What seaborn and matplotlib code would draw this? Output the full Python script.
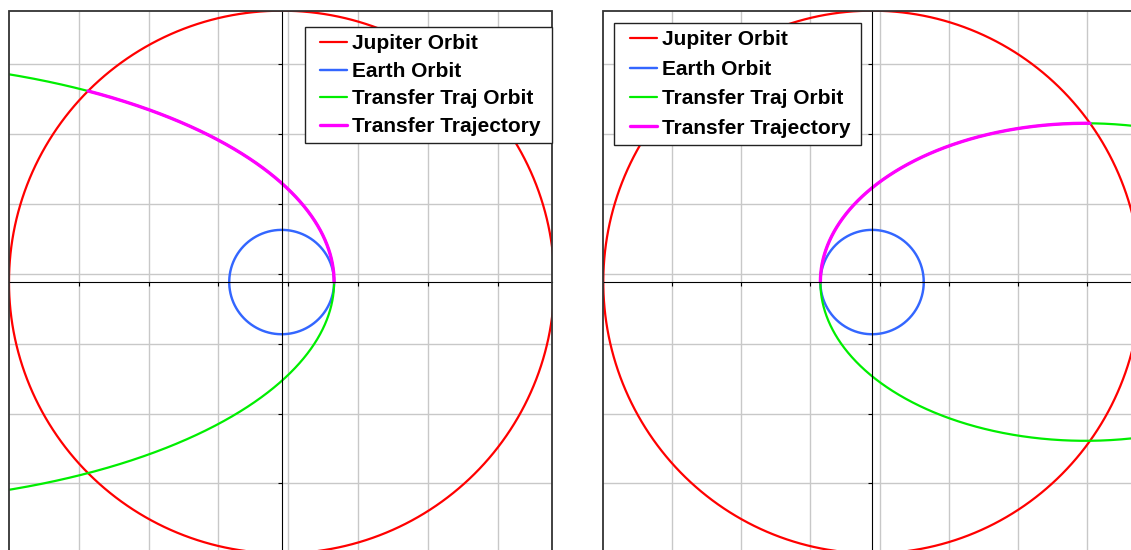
import numpy as np
import matplotlib
matplotlib.use("Agg")
import matplotlib.pyplot as plt
from matplotlib.legend_handler import HandlerLine2D
from matplotlib.lines import Line2D
from matplotlib.patches import Rectangle
import seaborn as sns

# ---- orbit data (AU) ----
jupiter_radius = 5.2
earth_radius = 1.0
transfer_periapsis = [1.0, 1.0]          # per panel
transfer_eccentricity = [0.895, 0.805]   # per panel
periapsis_direction_deg = [0.0, 180.0]   # per panel
travel_sense = [1, -1]                   # +1 counter-clockwise, -1 clockwise

series_labels = ["Jupiter Orbit", "Earth Orbit", "Transfer Traj Orbit", "Transfer Trajectory"]

# ---- styling / layout ----
colors = ["#ff0000", "#3366ff", "#00ee00", "#ff00ff"]
widths = [1.6, 1.75, 1.6, 2.4]
xlims = [(-5.2, 5.15), (-5.2, 5.3)]
ylim = (-5.2, 5.2)
grid_step_x = [1.331, 1.336]
grid_step_y = 1.34

FIG_W, FIG_H = 1131, 550
panel_px = 542.7
panel_left_px = [9.0, 603.3]
panel_top_px = 10.7
legend_box_px = [(305.0, 27.0, 246.7), (614.3, 22.7, 246.4)]  # left, top, width
legend_spacing = [0.41, 0.50]
legend_pad = [0.35, 0.37]
font_pt = 15.0


def circle(radius, n=721):
    t = np.linspace(0, 2 * np.pi, n)
    return radius * np.cos(t), radius * np.sin(t)


def conic(rp, ecc, omega_deg, sense, nu):
    p = rp * (1 + ecc)
    r = p / (1 + ecc * np.cos(nu))
    ang = np.deg2rad(omega_deg) + sense * nu
    return r * np.cos(ang), r * np.sin(ang)


class InsetLineHandler(HandlerLine2D):
    """Legend line that starts a little inside the handle box."""

    def __init__(self, lead_em, **kw):
        super().__init__(**kw)
        self.lead_em = lead_em

    def create_artists(self, legend, orig_handle, xdescent, ydescent,
                       width, height, fontsize, trans):
        artists = super().create_artists(legend, orig_handle, xdescent, ydescent,
                                         width, height, fontsize, trans)
        for a in artists:
            xd = np.asarray(a.get_xdata(), float)
            if xd.size >= 2:
                a.set_xdata(np.linspace(xd[0] + self.lead_em * fontsize, xd[-1], xd.size))
        return artists


sns.set_style("white")
plt.rcParams["font.family"] = ["Liberation Sans", "DejaVu Sans"]

fig = plt.figure(figsize=(FIG_W / 100, FIG_H / 100), dpi=100)

for i in range(2):
    left = panel_left_px[i] / FIG_W
    top = 1 - panel_top_px / FIG_H
    ax = fig.add_axes([left, top - panel_px / FIG_H, panel_px / FIG_W, panel_px / FIG_H])

    jx, jy = circle(jupiter_radius)
    ex, ey = circle(earth_radius)
    rp, ecc = transfer_periapsis[i], transfer_eccentricity[i]
    om, s = periapsis_direction_deg[i], travel_sense[i]
    ox, oy = conic(rp, ecc, om, s, np.linspace(-np.pi, np.pi, 1441))
    nu_end = np.arccos((rp * (1 + ecc) / jupiter_radius - 1) / ecc)
    tx, ty = conic(rp, ecc, om, s, np.linspace(0, nu_end, 400))

    curves = [(jx, jy), (ex, ey), (ox, oy), (tx, ty)]
    for (cx, cy), c, lw, lab in zip(curves, colors, widths, series_labels):
        sns.lineplot(x=cx, y=cy, sort=False, estimator=None, ax=ax,
                     color=c, linewidth=lw, label=lab)

    ax.set_xlim(*xlims[i])
    ax.set_ylim(*ylim)
    ax.set_xlabel("")
    ax.set_ylabel("")
    ax.set_xticks(np.arange(xlims[i][0] + grid_step_x[i], xlims[i][1], grid_step_x[i]))
    ax.set_yticks(np.arange(ylim[0] + grid_step_y, ylim[1], grid_step_y))
    ax.set_axisbelow(True)
    ax.grid(True, color="#c8c8c8", linewidth=1.0)

    # axis lines through the origin, outer frame drawn separately
    for side in ("left", "bottom"):
        ax.spines[side].set_position(("data", 0))
        ax.spines[side].set_color("black")
        ax.spines[side].set_linewidth(0.8)
        ax.spines[side].set_visible(True)
    for side in ("right", "top"):
        ax.spines[side].set_visible(False)
    ax.tick_params(direction="out", length=3, width=0.8, color="black",
                   labelbottom=False, labelleft=False, left=True, bottom=True)
    ax.add_patch(Rectangle((0, 0), 1, 1, transform=ax.transAxes, fill=False,
                           edgecolor="#333333", linewidth=1.3, clip_on=False, zorder=4))

    lx, ly, lw_px = legend_box_px[i]
    bx = (lx - panel_left_px[i]) / panel_px
    by = 1 - (ly - panel_top_px) / panel_px
    leg = ax.legend(loc="upper left", bbox_to_anchor=(bx, by, lw_px / panel_px, 0),
                    mode="expand", borderaxespad=0, borderpad=legend_pad[i],
                    labelspacing=legend_spacing[i], handlelength=1.68,
                    handletextpad=0.25, frameon=True, fancybox=False,
                    framealpha=1, edgecolor="#222222", facecolor="white",
                    labelcolor="black",
                    prop={"family": ["Liberation Sans", "DejaVu Sans"],
                          "weight": "bold", "size": font_pt},
                    handler_map={Line2D: InsetLineHandler(0.38)})
    leg.get_frame().set_linewidth(1.0)
    leg.set_zorder(6)

fig.savefig("out.png", dpi=100)
